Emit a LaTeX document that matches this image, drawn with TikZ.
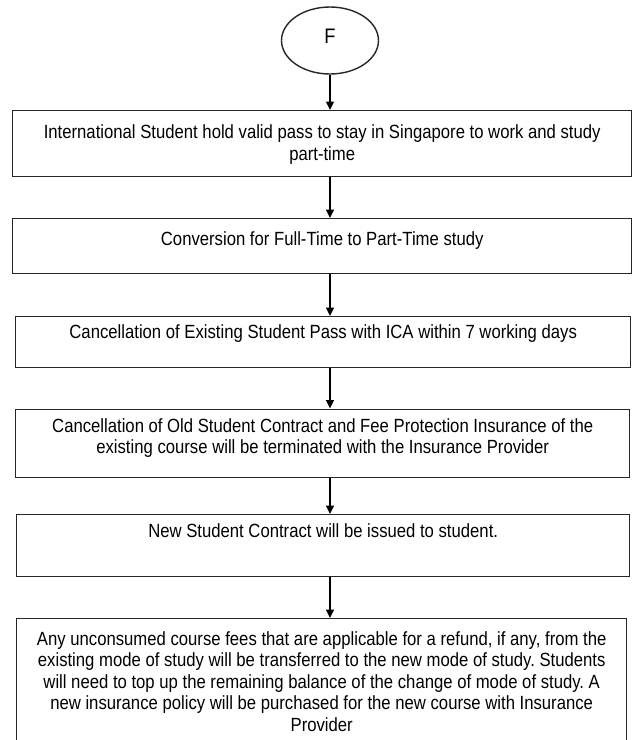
\documentclass[tikz,border=0pt]{standalone}
\usepackage{fontspec}
\setmainfont{Liberation Sans}[FakeStretch=0.874]
\usetikzlibrary{shapes.geometric,arrows.meta}
\newcommand{\bxtext}[4]{\parbox[t][#1][t]{#2}{\frenchspacing\centering\vspace*{#3}#4\par}}
\begin{document}
\begin{tikzpicture}[x=1pt,y=-1pt,
  bx/.style={draw=black!85, line width=1.4pt, inner sep=0pt, anchor=north west,
    font=\fontsize{19.1pt}{21.5pt}\selectfont, text=black},
  term/.style={draw=black!85, line width=1.4pt, ellipse, inner sep=0pt,
    minimum width=97pt, minimum height=67pt, text depth=9pt,
    font=\fontsize{21pt}{24pt}\selectfont, text=black},
  arr/.style={draw=black, line width=1.3pt, -{Triangle[length=8.5pt,width=8pt]}}]
\useasboundingbox (0,0) rectangle (635,740);
\fill[white] (0,0) rectangle (635,740);
\node[term] (F) at (330,40.5) {F};
\node[bx] (b1) at (12,110) {\bxtext{66pt}{619pt}{14.1pt}{International Student hold valid pass to stay in Singapore to work and study\\part-time}};
\node[bx] (b2) at (12,218) {\bxtext{55pt}{619pt}{13.1pt}{Conversion for Full-Time to Part-Time study}};
\node[bx] (b3) at (15,316) {\bxtext{51pt}{615pt}{8.1pt}{Cancellation of Existing Student Pass with ICA within 7 working days}};
\node[bx] (b4) at (15,408.5) {\bxtext{68pt}{614pt}{9.1pt}{Cancellation of Old Student Contract and Fee Protection Insurance of the\\existing course will be terminated with the Insurance Provider}};
\node[bx] (b5) at (16,514) {\bxtext{62pt}{613pt}{8.6pt}{New Student Contract will be issued to student.}};
\node[bx] (b6) at (16,618) {\bxtext{140pt}{610pt}{12.8pt}{Any unconsumed course fees that are applicable for a refund, if any, from the\\existing mode of study will be transferred to the new mode of study. Students\\will need to top up the remaining balance of the change of mode of study. A\\new insurance policy will be purchased for the new course with Insurance\\Provider}};
\draw[arr] (F.south) -- (F.south |- b1.north);
\draw[arr] (F.south |- b1.south) -- (F.south |- b2.north);
\draw[arr] (F.south |- b2.south) -- (F.south |- b3.north);
\draw[arr] (F.south |- b3.south) -- (F.south |- b4.north);
\draw[arr] (F.south |- b4.south) -- (F.south |- b5.north);
\draw[arr] (F.south |- b5.south) -- (F.south |- b6.north);
\end{tikzpicture}
\end{document}
